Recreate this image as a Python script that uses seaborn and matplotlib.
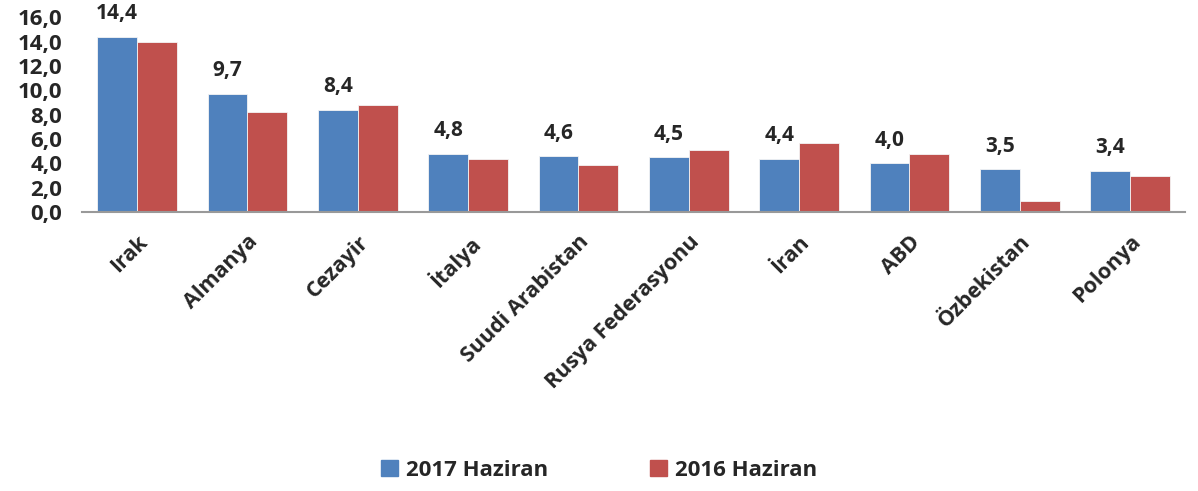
import numpy as np
import pandas as pd
import matplotlib
matplotlib.use("Agg")
import matplotlib.pyplot as plt
from matplotlib.ticker import FuncFormatter
import seaborn as sns


countries = ["Irak", "Almanya", "Cezayir", "İtalya", "Suudi Arabistan",
             "Rusya Federasyonu", "İran", "ABD", "Özbekistan", "Polonya"]
june_2017 = [14.4, 9.7, 8.4, 4.8, 4.6, 4.5, 4.4, 4.0, 3.5, 3.4]
june_2016 = [14.0, 8.2, 8.8, 4.4, 3.9, 5.1, 5.7, 4.8, 0.9, 3.0]
series = ["2017 Haziran", "2016 Haziran"]
colors = ["#4F81BD", "#C0504D"]


def comma(v, _=None):
    return f"{v:.1f}".replace(".", ",")


def main():
    df = pd.DataFrame({
        "country": countries * 2,
        "value": june_2017 + june_2016,
        "series": [series[0]] * len(countries) + [series[1]] * len(countries),
    })

    sns.set_style("white")
    plt.rcParams["font.family"] = ["Open Sans", "DejaVu Sans"]
    plt.rcParams["font.weight"] = "bold"

    fig = plt.figure(figsize=(11.98, 4.91), dpi=100)
    ax = fig.add_axes([0.0684, 0.568, 0.921, 0.397])

    sns.barplot(data=df, x="country", y="value", hue="series", palette=colors,
                saturation=1, width=0.72, edgecolor="#f4f4f4", linewidth=0.6,
                ax=ax, legend=False)

    ax.set_ylim(0, 16)
    ax.set_yticks(np.arange(0, 16.1, 2))
    ax.yaxis.set_major_formatter(FuncFormatter(comma))
    ax.set_xlabel("")
    ax.set_ylabel("")
    ax.set_xlim(-0.5, len(countries) - 0.5)

    for side in ["left", "top", "right"]:
        ax.spines[side].set_visible(False)
    ax.spines["bottom"].set_color("#999999")
    ax.spines["bottom"].set_linewidth(1.5)
    ax.tick_params(length=0)
    ax.tick_params(axis="y", labelsize=16, pad=14)
    for lbl in ax.get_yticklabels():
        lbl.set_fontweight("bold")
    ax.set_xticks(range(len(countries)))
    ax.set_xticklabels(countries, rotation=45, ha="right",
                       rotation_mode="anchor", fontsize=15.5, fontweight="bold")
    ax.tick_params(axis="x", pad=14)

    ax.bar_label(ax.containers[0], labels=[comma(v) for v in june_2017],
                 padding=9, fontsize=15, fontweight="bold", clip_on=False)

    handles = [plt.Rectangle((0, 0), 1, 1, color=c) for c in colors]
    fig.legend(handles, series, loc="lower center", bbox_to_anchor=(0.5, -0.02),
               ncol=2, frameon=False, handlelength=0.75, handleheight=0.75,
               handletextpad=0.35, columnspacing=4.6,
               prop={"weight": "bold", "size": 16})

    fig.savefig("out.png", dpi=100)


if __name__ == "__main__":
    main()
